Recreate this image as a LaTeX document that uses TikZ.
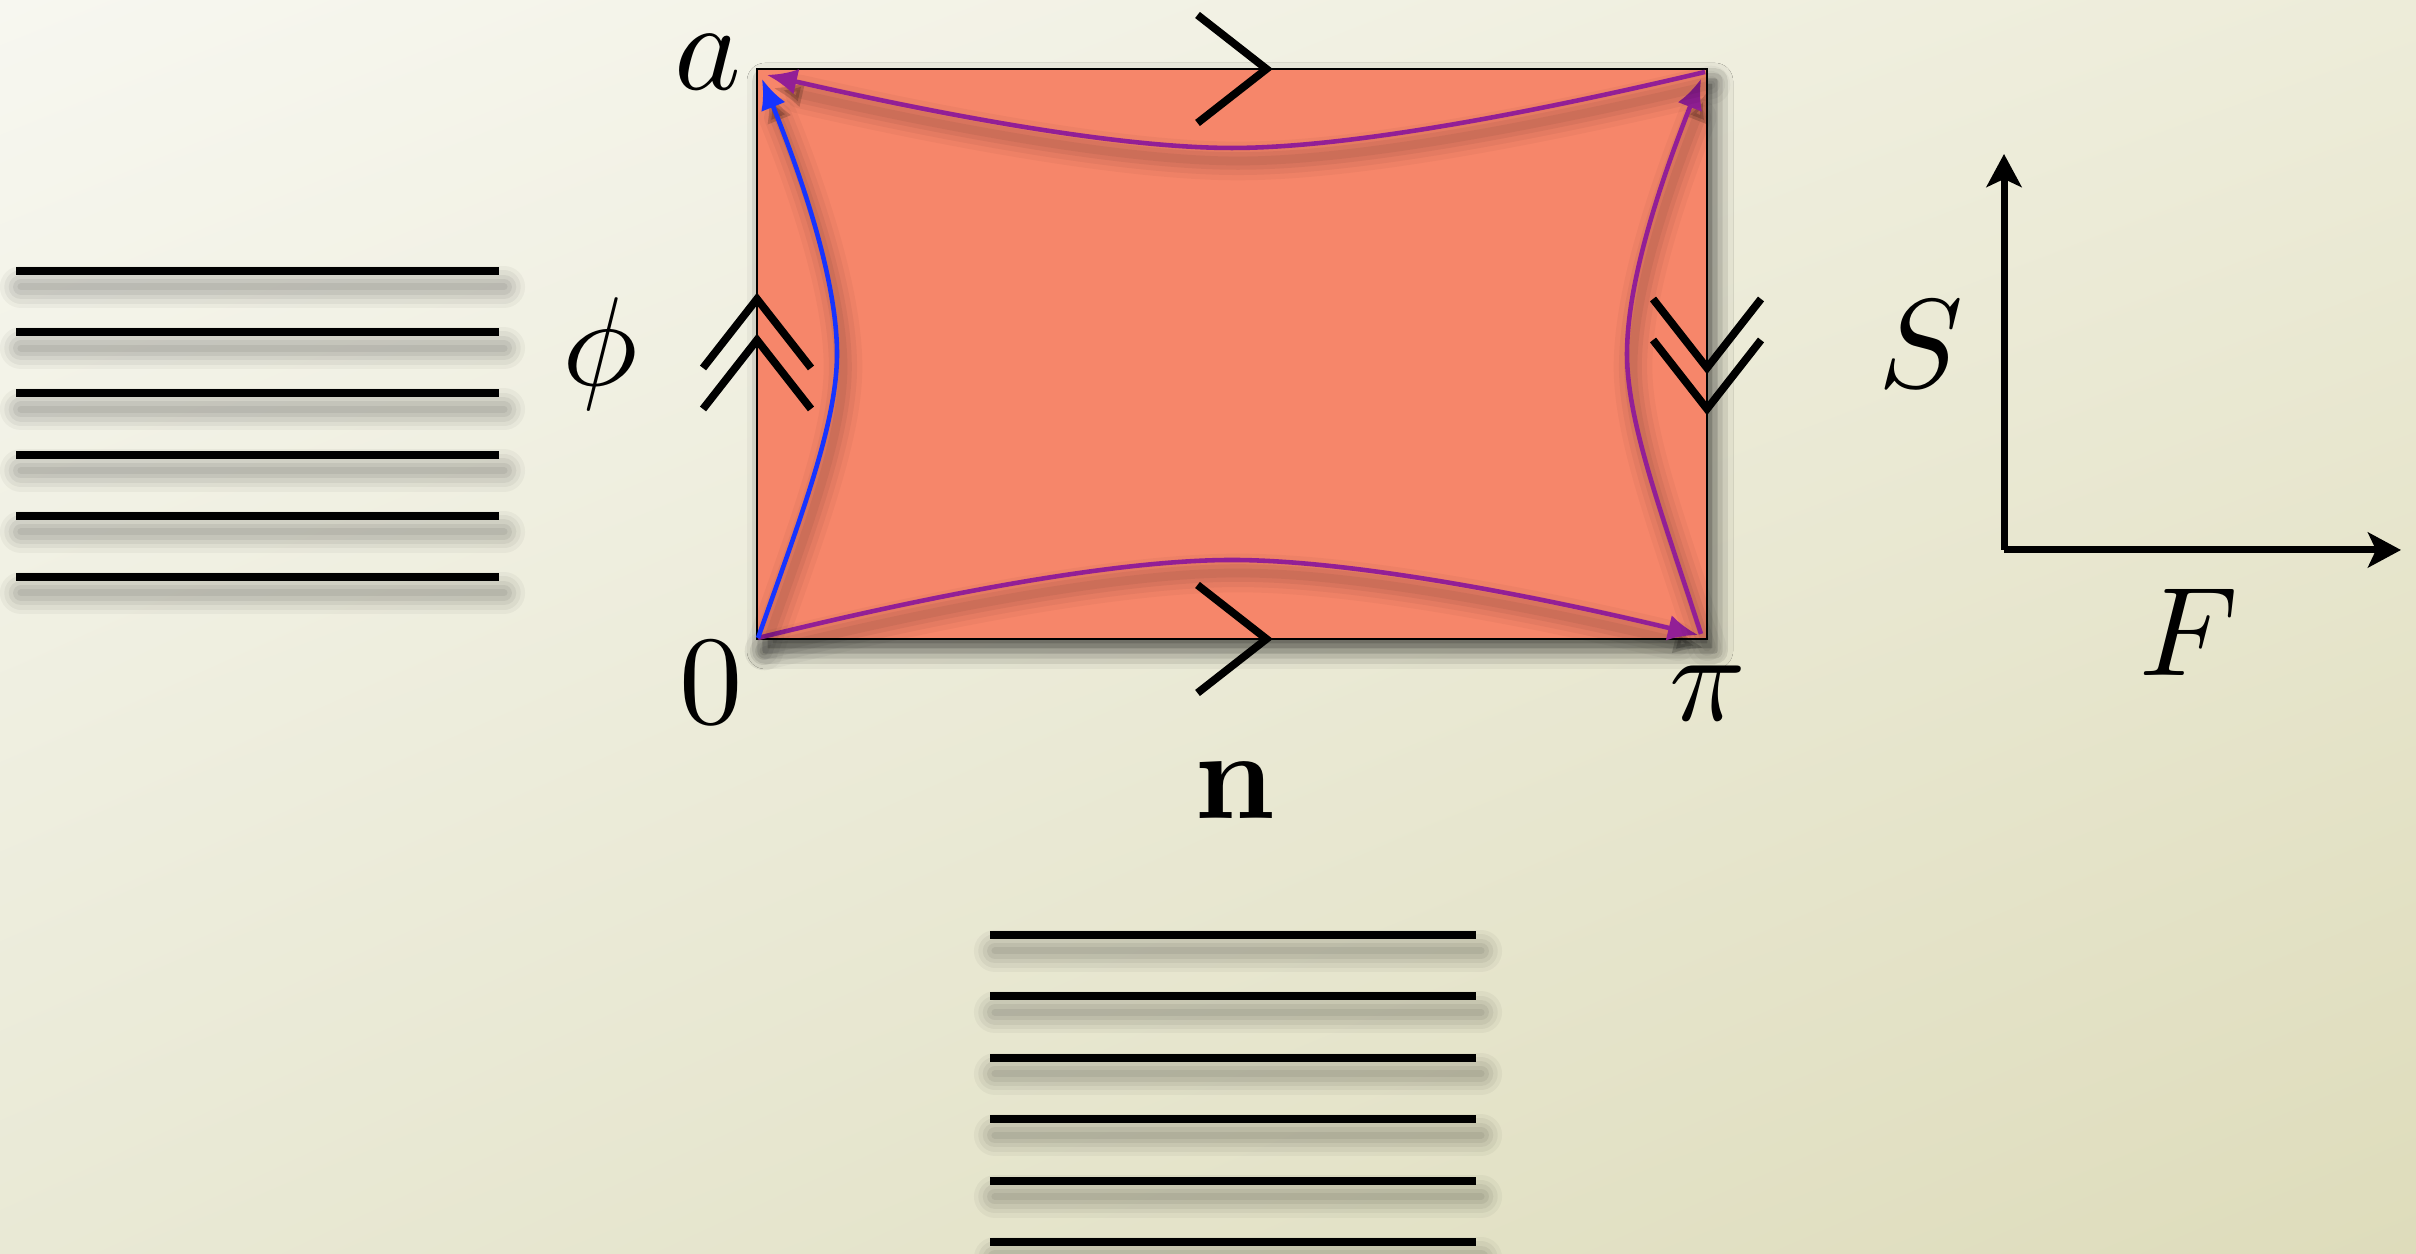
\documentclass[tikz,border=0pt]{standalone}
\usepackage{amsmath}
\usetikzlibrary{arrows.meta, positioning, calc, shadings, shadows.blur}

\definecolor{boxfill}{RGB}{246,134,106}
\definecolor{flowpurple}{RGB}{146,31,150}
\definecolor{flowblue}{RGB}{22,52,255}
\definecolor{bgTL}{RGB}{247,247,240}
\definecolor{bgTR}{RGB}{237,236,217}
\definecolor{bgBL}{RGB}{233,233,213}
\definecolor{bgBR}{RGB}{222,220,187}

\tikzset{
  lbl/.style={inner sep=0pt, scale=3.6},
  chevline/.style={line width=2.2pt, black},
  chevron/.pic={\draw[chevline] (-0.345,0.54) -- (0.345,0) -- (-0.345,-0.54);},
  softline/.style 2 args={preaction={draw=black, opacity=#2, line width=#1, line cap=round,
    transform canvas={xshift=0.6mm, yshift=-1.3mm}}},
  curveshade/.style={softline={11pt}{.03}, softline={8pt}{.04}, softline={5pt}{.05}, softline={2.5pt}{.05}},
  flowline/.style={line width=1.3pt, curveshade, -{Latex[length=0.3cm, width=0.26cm]}},
  hatchline/.style 2 args={preaction={draw=black, opacity=#2, line width=#1, line cap=round,
    transform canvas={xshift=0.5mm, yshift=-1.6mm}}},
  hatchshade/.style={hatchline={12pt}{.035}, hatchline={9.5pt}{.045}, hatchline={7pt}{.05},
    hatchline={4.5pt}{.06}, hatchline={2pt}{.06}},
  hatch/.style={line width=2.3pt, black, hatchshade},
  axis/.style={line width=2pt, black, -{Stealth[length=0.33cm, width=0.35cm, inset=0.08cm]}},
}

\begin{document}
\begin{tikzpicture}
  \shade[upper left=bgTL, upper right=bgTR, lower left=bgBL, lower right=bgBR]
        (0,0) rectangle (24.16,12.54);
  \useasboundingbox (0,0) rectangle (24.16,12.54);

  \foreach \y in {0,...,5}
    \draw[hatch] (0.16,{9.83-0.612*\y}) -- (4.99,{9.83-0.612*\y});
  \foreach \y in {0,...,5}
    \draw[hatch] (9.90,{3.19-0.614*\y}) -- (14.76,{3.19-0.614*\y});

  \node[rectangle, draw=black, line width=0.6pt, fill=boxfill, inner sep=0pt, outer sep=0pt,
        minimum width=9.5cm, minimum height=5.7cm,
        blur shadow={shadow xshift=0.8mm, shadow yshift=-1.2mm, shadow blur radius=1.8mm, shadow opacity=65}]
        (box) at (12.32,9.0) {};

  \pic at (box.north) {chevron};
  \pic at (box.south) {chevron};
  \pic[rotate=90] at ($(box.west)+(0,0.205)$) {chevron};
  \pic[rotate=90] at ($(box.west)+(0,-0.205)$) {chevron};
  \pic[rotate=-90] at ($(box.east)+(0,0.205)$) {chevron};
  \pic[rotate=-90] at ($(box.east)+(0,-0.205)$) {chevron};

  \coordinate (p0)   at (7.58,6.16);
  \coordinate (ppi)  at (16.98,6.19);
  \coordinate (ppi2) at (17.01,6.20);
  \coordinate (pb)   at (17.05,11.82);
  \coordinate (pb2)  at (17.01,11.75);
  \coordinate (pa)   at (7.67,11.79);
  \coordinate (pa2)  at (7.62,11.75);

  \draw[flowline, flowpurple] (p0) .. controls (9.24,6.57) and (11.12,6.94) .. (12.32,6.94)
        .. controls (13.52,6.94) and (15.4,6.57) .. (ppi);
  \draw[flowline, flowpurple] (ppi2) .. controls (16.64,7.35) and (16.27,8.3) .. (16.27,9.0)
        .. controls (16.27,9.7) and (16.58,10.66) .. (pb2);
  \draw[flowline, flowpurple] (pb) .. controls (15.4,11.43) and (13.52,11.06) .. (12.32,11.06)
        .. controls (11.12,11.06) and (9.24,11.43) .. (pa);
  \draw[flowline, flowblue] (p0) .. controls (8.0,7.35) and (8.37,8.3) .. (8.37,9.0)
        .. controls (8.37,9.7) and (8.06,10.66) .. (pa2);

  \coordinate (orig) at (20.04,7.04);
  \coordinate (send) at (20.04,11.0);
  \coordinate (fend) at (24.01,7.04);
  \draw[axis] (orig) -- (send);
  \draw[axis] (orig) -- (fend);

  \node[lbl] (la)   at (7.08,11.92) {$a$};
  \node[lbl] (lo)   at (7.11,5.71)  {$0$};
  \node[lbl] (lpi)  at (17.08,5.61) {$\pi$};
  \node[lbl] (lphi) at (6.00,9.00)  {$\phi$};
  \node[lbl] (ln)   at (12.35,4.64) {$\mathbf{n}$};
  \node[lbl] (lS)   at (19.21,9.10) {$S$};
  \node[lbl] (lF)   at (21.89,6.22) {$F$};
\end{tikzpicture}
\end{document}
